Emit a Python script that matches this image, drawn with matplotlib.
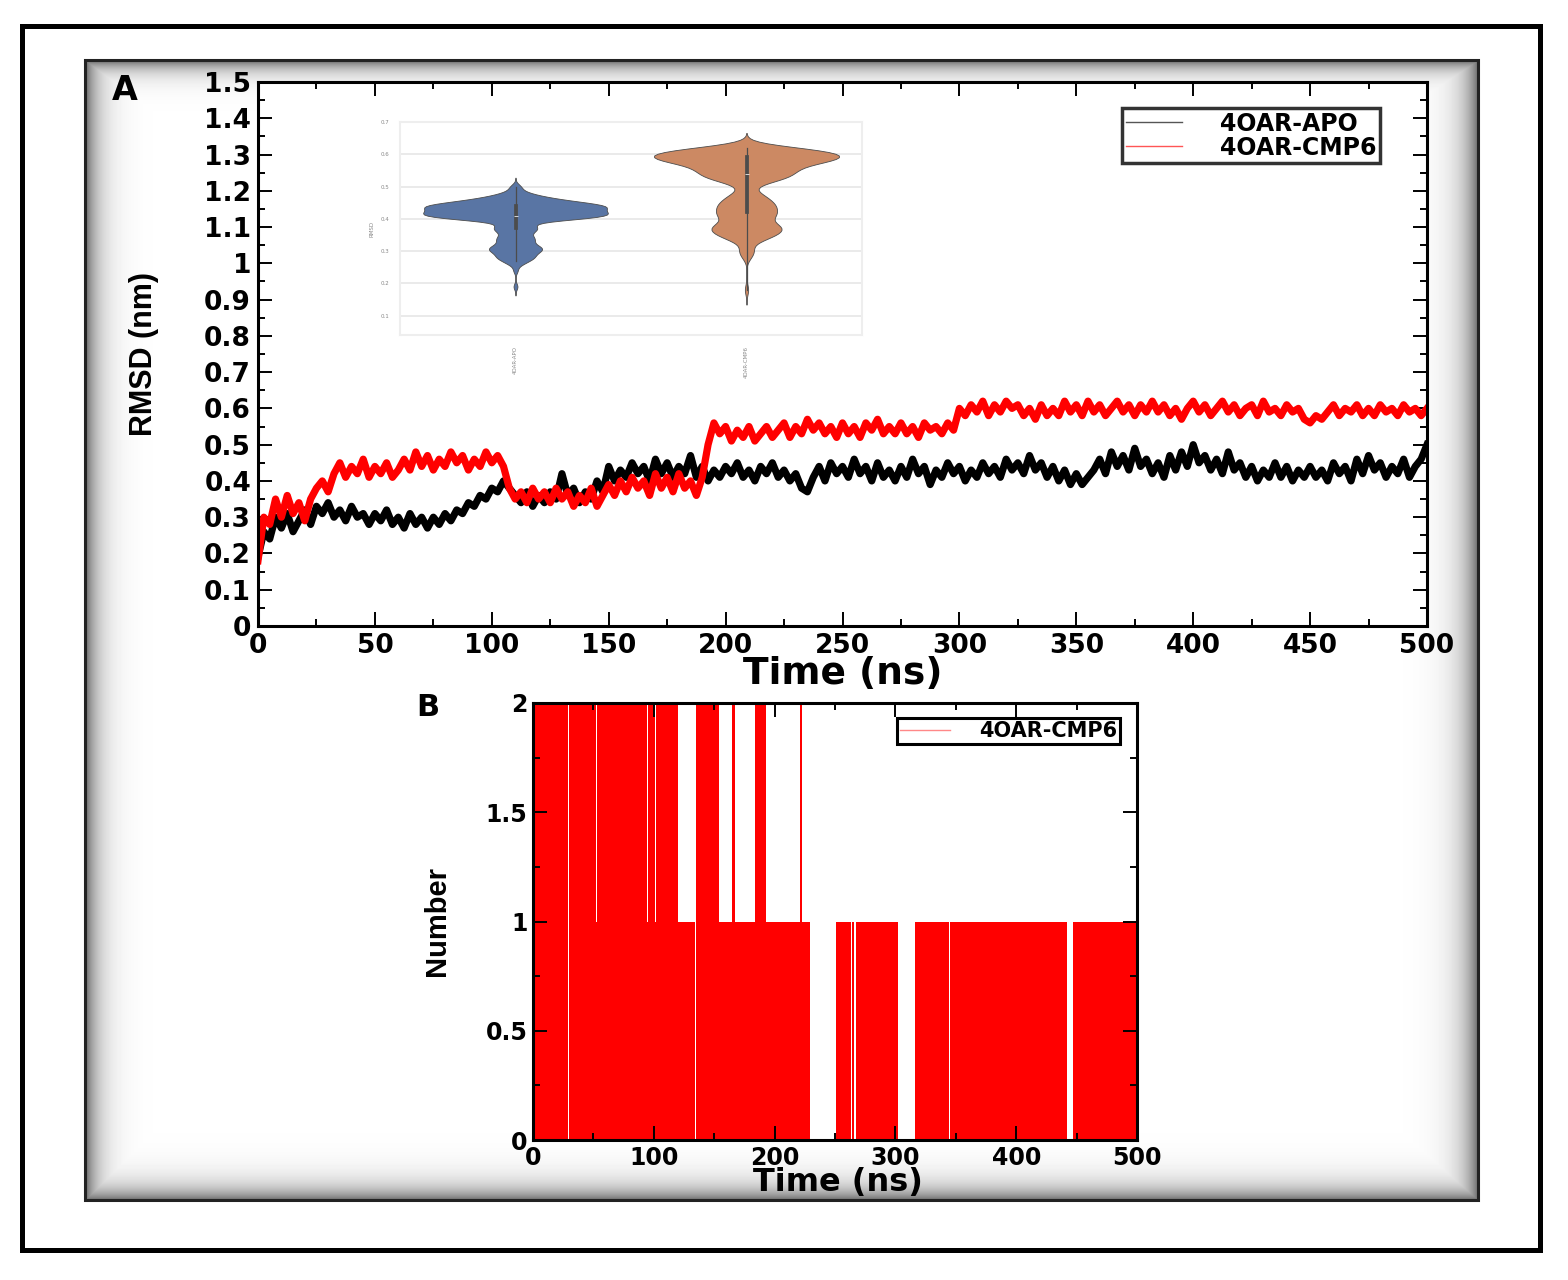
import numpy as np
import pandas as pd
import matplotlib
matplotlib.use("Agg")
import matplotlib.pyplot as plt
import seaborn as sns
from matplotlib.lines import Line2D
from matplotlib.patches import Rectangle
from matplotlib.ticker import FuncFormatter, MultipleLocator

time_ns = np.arange(0, 500.1, 2.5)

rmsd_apo = [
    0.19, 0.26, 0.24, 0.30, 0.27, 0.31, 0.26, 0.29, 0.32, 0.28,
    0.33, 0.31, 0.34, 0.30, 0.32, 0.29, 0.33, 0.30, 0.31, 0.28,
    0.31, 0.29, 0.32, 0.28, 0.30, 0.27, 0.31, 0.28, 0.30, 0.27,
    0.30, 0.28, 0.31, 0.29, 0.32, 0.31, 0.34, 0.33, 0.36, 0.35,
    0.38, 0.37, 0.40, 0.38, 0.36, 0.34, 0.37, 0.33, 0.36, 0.34,
    0.37, 0.35, 0.42, 0.36, 0.38, 0.34, 0.37, 0.35, 0.40, 0.37,
    0.44, 0.40, 0.43, 0.41, 0.45, 0.42, 0.44, 0.40, 0.46, 0.42,
    0.45, 0.41, 0.44, 0.42, 0.47, 0.41, 0.44, 0.40, 0.43, 0.41,
    0.44, 0.42, 0.45, 0.41, 0.43, 0.40, 0.44, 0.42, 0.45, 0.41,
    0.43, 0.40, 0.42, 0.38, 0.37, 0.41, 0.44, 0.40, 0.45, 0.42,
    0.44, 0.41, 0.46, 0.42, 0.44, 0.40, 0.45, 0.41, 0.43, 0.40,
    0.44, 0.41, 0.46, 0.42, 0.44, 0.39, 0.43, 0.41, 0.45, 0.42,
    0.44, 0.40, 0.43, 0.41, 0.45, 0.42, 0.44, 0.41, 0.46, 0.43,
    0.45, 0.42, 0.47, 0.43, 0.45, 0.41, 0.44, 0.40, 0.43, 0.39,
    0.42, 0.39, 0.41, 0.43, 0.46, 0.42, 0.48, 0.44, 0.47, 0.43,
    0.49, 0.44, 0.46, 0.42, 0.45, 0.41, 0.47, 0.43, 0.48, 0.44,
    0.50, 0.45, 0.47, 0.43, 0.46, 0.42, 0.48, 0.43, 0.45, 0.41,
    0.44, 0.40, 0.43, 0.41, 0.45, 0.41, 0.44, 0.40, 0.43, 0.41,
    0.44, 0.41, 0.43, 0.40, 0.45, 0.42, 0.44, 0.40, 0.46, 0.42,
    0.47, 0.43, 0.45, 0.41, 0.44, 0.42, 0.46, 0.41, 0.44, 0.46,
    0.50,
]

rmsd_cmp6 = [
    0.18, 0.30, 0.28, 0.35, 0.30, 0.36, 0.31, 0.34, 0.29, 0.35,
    0.38, 0.40, 0.37, 0.42, 0.45, 0.41, 0.44, 0.42, 0.46, 0.41,
    0.44, 0.42, 0.45, 0.41, 0.43, 0.46, 0.43, 0.48, 0.44, 0.47,
    0.43, 0.46, 0.44, 0.48, 0.45, 0.47, 0.43, 0.46, 0.44, 0.48,
    0.45, 0.47, 0.44, 0.38, 0.35, 0.37, 0.34, 0.38, 0.35, 0.37,
    0.34, 0.38, 0.35, 0.37, 0.33, 0.36, 0.34, 0.38, 0.33, 0.36,
    0.39, 0.36, 0.40, 0.37, 0.41, 0.38, 0.40, 0.36, 0.42, 0.38,
    0.41, 0.37, 0.42, 0.38, 0.40, 0.36, 0.41, 0.50, 0.56, 0.53,
    0.55, 0.51, 0.54, 0.52, 0.55, 0.51, 0.53, 0.55, 0.52, 0.54,
    0.56, 0.52, 0.55, 0.53, 0.57, 0.54, 0.56, 0.53, 0.55, 0.52,
    0.56, 0.53, 0.55, 0.52, 0.56, 0.54, 0.57, 0.53, 0.55, 0.53,
    0.56, 0.53, 0.55, 0.52, 0.56, 0.54, 0.55, 0.53, 0.56, 0.54,
    0.60, 0.58, 0.61, 0.59, 0.62, 0.58, 0.61, 0.59, 0.62, 0.60,
    0.61, 0.58, 0.60, 0.57, 0.61, 0.58, 0.60, 0.58, 0.62, 0.59,
    0.61, 0.58, 0.62, 0.59, 0.61, 0.58, 0.60, 0.62, 0.59, 0.61,
    0.58, 0.61, 0.59, 0.62, 0.59, 0.61, 0.58, 0.60, 0.57, 0.60,
    0.62, 0.59, 0.61, 0.58, 0.60, 0.62, 0.59, 0.61, 0.58, 0.60,
    0.61, 0.58, 0.62, 0.59, 0.60, 0.58, 0.61, 0.59, 0.60, 0.57,
    0.56, 0.58, 0.57, 0.59, 0.61, 0.58, 0.60, 0.59, 0.61, 0.58,
    0.60, 0.58, 0.61, 0.59, 0.60, 0.58, 0.61, 0.59, 0.60, 0.58,
    0.60,
]

labels = ["4OAR-APO", "4OAR-CMP6"]

# ---- panel B: number of H-bonds, as (start, end, count) runs in ns
hb_start = [0, 29, 30, 52, 53, 94, 95, 101, 102, 120, 134, 135, 154, 165,
            167, 184, 193, 221, 223, 229, 251, 263, 264, 266, 267, 302,
            316, 344, 345, 442, 447]
hb_end = [29, 30, 52, 53, 94, 95, 101, 102, 120, 134, 135, 154, 165, 167,
          184, 193, 221, 223, 229, 251, 263, 264, 266, 267, 302, 316,
          344, 345, 442, 447, 500]
hb_count = [2, 0, 2, 1, 2, 1, 2, 1, 2, 1, 0, 2, 1, 2,
            1, 2, 1, 2, 1, 0, 1, 0, 1, 0, 1, 0,
            1, 0, 1, 0, 1]

W, H = 1568, 1280
fig = plt.figure(figsize=(W / 100, H / 100), dpi=100)
fig.patch.set_facecolor("white")

# background: outer frame and shaded panel
bg = fig.add_axes([0, 0, 1, 1], zorder=-5)
bg.set_xlim(0, W)
bg.set_ylim(H, 0)
bg.axis("off")
bg.add_patch(Rectangle((22, 26), 1518, 1224, fill=False, lw=3.6, ec="black"))
x0, x1, y0, y1 = 85, 1478, 60, 1200
X, Y = np.meshgrid(np.arange(x0, x1), np.arange(y0, y1))
d = np.minimum.reduce([(X - x0) / 40, (x1 - X) / 45, (Y - y0) / 30, (y1 - Y) / 40])
shade = 1 - 0.6 * np.exp(-3 * d)
bg.imshow(shade, cmap="gray", vmin=0, vmax=1, extent=(x0, x1, y1, y0), aspect="auto")
bg.add_patch(Rectangle((x0, y0), x1 - x0, y1 - y0, fill=False, lw=2.2, ec="#222222"))

FONT = "DejaVu Sans"
bold = dict(family=FONT, weight="bold")
narrow = dict(family="Liberation Sans", weight="bold")
gfmt = FuncFormatter(lambda v, p: f"{v:g}")


def style_axis(ax):
    for s in ax.spines.values():
        s.set_linewidth(2.2)
    ax.tick_params(which="both", direction="in", top=True, right=True, width=1.4)
    ax.tick_params(which="major", length=10)
    ax.tick_params(which="minor", length=5)
    for t in ax.get_xticklabels() + ax.get_yticklabels():
        t.set_fontfamily(FONT)
        t.set_fontweight("bold")


# ---- panel A
ax = fig.add_axes([258 / W, 1 - 626 / H, 1169 / W, 544 / H])
ax.plot(time_ns, rmsd_apo, color="black", lw=5.2)
ax.plot(time_ns, rmsd_cmp6, color="red", lw=5.2)
ax.set_xlim(0, 500)
ax.set_ylim(0, 1.5)
ax.xaxis.set_major_locator(MultipleLocator(50))
ax.xaxis.set_minor_locator(MultipleLocator(25))
ax.yaxis.set_major_locator(MultipleLocator(0.1))
ax.yaxis.set_minor_locator(MultipleLocator(0.05))
ax.xaxis.set_major_formatter(gfmt)
ax.yaxis.set_major_formatter(gfmt)
ax.tick_params(labelsize=19, pad=5)
style_axis(ax)
ax.set_xlabel("Time (ns)", fontsize=27, **bold)
ax.xaxis.set_label_coords(0.5, -0.055)
ax.set_ylabel("RMSD (nm)", fontsize=22, **narrow)
ax.yaxis.set_label_coords(-0.085, 0.5)
handles = [Line2D([], [], color="#555555", lw=1), Line2D([], [], color="#ff5555", lw=1)]
leg = ax.legend(handles, labels, loc="upper right", bbox_to_anchor=(0.96, 0.952),
                borderaxespad=0, prop=dict(family=FONT, weight="bold", size=17),
                frameon=True, fancybox=False, handlelength=2.4, borderpad=0.15,
                labelspacing=0.0, handletextpad=1.6)
leg.get_frame().set_edgecolor("black")
leg.get_frame().set_linewidth(2.5)
fig.text(125 / W, 1 - 90 / H, "A", fontsize=24, ha="center", va="center", **bold)

# ---- inset violin plot
axin = fig.add_axes([400 / W, 1 - 335 / H, 462 / W, 213 / H])
df = pd.DataFrame({
    "system": [labels[0]] * len(rmsd_apo) + [labels[1]] * len(rmsd_cmp6),
    "rmsd": rmsd_apo + rmsd_cmp6,
})
sns.violinplot(data=df, x="system", y="rmsd", hue="system",
               palette=["#4c72b0", "#dd8452"], inner="box", bw_adjust=0.45,
               cut=3, density_norm="width", width=0.8, linewidth=0.6,
               legend=False, ax=axin)
axin.set_ylim(0.04, 0.7)
axin.set_xlim(-0.5, 1.5)
axin.yaxis.set_major_locator(MultipleLocator(0.1))
axin.grid(axis="y", color="#e6e6e6", lw=1.2)
axin.set_axisbelow(True)
for s in axin.spines.values():
    s.set_color("#eeeeee")
    s.set_linewidth(1.5)
axin.tick_params(length=0, labelsize=4, labelcolor="#888888", pad=8)
axin.tick_params(axis="x", rotation=90, pad=8)
axin.set_xlabel("")
axin.set_ylabel("RMSD", fontsize=4, color="#888888")

# ---- panel B
bx = fig.add_axes([533 / W, 1 - 1140 / H, 604 / W, 437 / H])
widths = [e - s for s, e in zip(hb_start, hb_end)]
bx.bar(hb_start, hb_count, width=widths, align="edge", color="red", lw=0)
bx.set_xlim(0, 500)
bx.set_ylim(0, 2)
bx.xaxis.set_major_locator(MultipleLocator(100))
bx.xaxis.set_minor_locator(MultipleLocator(50))
bx.yaxis.set_major_locator(MultipleLocator(0.5))
bx.yaxis.set_minor_locator(MultipleLocator(0.25))
bx.xaxis.set_major_formatter(gfmt)
bx.yaxis.set_major_formatter(gfmt)
bx.tick_params(labelsize=17, pad=4)
style_axis(bx)
bx.set_xlabel("Time (ns)", fontsize=23, **bold)
bx.xaxis.set_label_coords(0.505, -0.062)
bx.set_ylabel("Number", fontsize=21, **narrow)
bx.yaxis.set_label_coords(-0.135, 0.5)
legb = bx.legend([Line2D([], [], color="#ff8888", lw=1)], [labels[1]],
                 loc="upper right", bbox_to_anchor=(0.972, 0.966),
                 borderaxespad=0, prop=dict(family=FONT, weight="bold", size=15),
                 frameon=True, fancybox=False, handlelength=2.4, borderpad=0.15,
                 handletextpad=1.4)
legb.get_frame().set_edgecolor("black")
legb.get_frame().set_linewidth(2.2)
legb.get_frame().set_alpha(1)
fig.text(428 / W, 1 - 707 / H, "B", fontsize=22, ha="center", va="center", **bold)

fig.savefig("out.png", dpi=100, facecolor="white")
